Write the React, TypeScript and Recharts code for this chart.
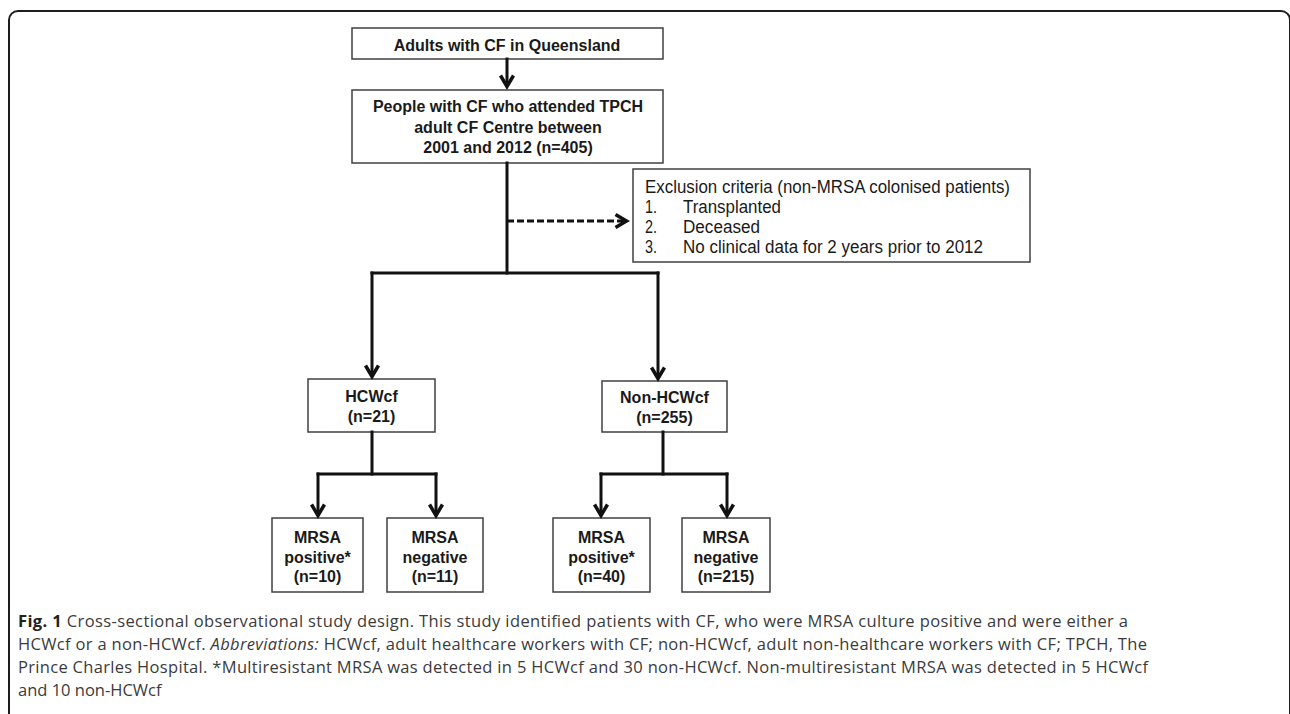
import React from "react";
import { ScatterChart, Scatter, XAxis, YAxis, ReferenceArea, ReferenceLine } from "recharts";

// ---- content ----
const topLabel = "Adults with CF in Queensland";
const attendedLines = ["People with CF who attended TPCH", "adult CF Centre between", "2001 and 2012"];
const totalAttended = 405;
const groupNames = ["HCWcf", "Non-HCWcf"];
const groupCounts = [21, 255];
const outcomeNames = ["positive*", "negative", "positive*", "negative"];
const outcomeCounts = [10, 11, 40, 215];
const exclusionHeader = "Exclusion criteria (non-MRSA colonised patients)";
const exclusionItems = ["Transplanted", "Deceased", "No clinical data for 2 years prior to 2012"];

// ---- layout (chart coordinate units) ----
const W = 1290;
const H = 714;
const boxX1 = [352, 352, 633, 308, 602, 272, 387, 553, 682];
const boxX2 = [663, 663, 1030, 435, 727, 363, 483, 650, 770];
const boxY1 = [28, 90, 169, 379, 381, 518, 518, 518, 518];
const boxY2 = [59, 163, 262, 432, 432, 592, 592, 592, 592];

// solid connectors: [x1, y1, x2, y2, arrow?]
const solidLinks: [number, number, number, number, boolean][] = [
  [507, 59, 507, 89, true],
  [507, 163, 507, 273, false],
  [372, 273, 658, 273, false],
  [372, 273, 372, 379, true],
  [658, 273, 658, 381, true],
  [372, 432, 372, 474, false],
  [318, 474, 436, 474, false],
  [318, 474, 318, 518, true],
  [436, 474, 436, 518, true],
  [663, 432, 663, 474, false],
  [601, 474, 727, 474, false],
  [601, 474, 601, 518, true],
  [727, 474, 727, 518, true],
];
const dashedLink: [number, number, number, number] = [507, 221, 629, 221];

const captionX = 18;
const captionY = [622, 645, 668, 691];

const FONT = "'Liberation Sans', Arial, sans-serif";
const CAP_FONT = "'Open Sans', 'Noto Sans', sans-serif";
const LINE = "#111111";
const BOX = "#404040";
const TXT = "#1a1a1a";

type TextNode = { x: number; y: number; lines: string[]; kind: string };

const centers = (i: number) => ({ x: (boxX1[i] + boxX2[i]) / 2, y: (boxY1[i] + boxY2[i]) / 2 });

const textNodes: TextNode[] = [
  { x: 507, y: centers(0).y, lines: [topLabel], kind: "top" },
  { x: 508, y: centers(1).y, lines: [attendedLines[0], attendedLines[1], `${attendedLines[2]} (n=${totalAttended})`], kind: "main" },
  { ...centers(3), lines: [groupNames[0], `(n=${groupCounts[0]})`], kind: "group" },
  { ...centers(4), lines: [groupNames[1], `(n=${groupCounts[1]})`], kind: "group" },
  ...outcomeNames.map((n, i) => ({ ...centers(5 + i), lines: ["MRSA", n, `(n=${outcomeCounts[i]})`], kind: "outcome" })),
];

const kindStyle: Record<string, { size: number; lh: number; dy: number }> = {
  top: { size: 16, lh: 20, dy: 1.5 },
  main: { size: 16, lh: 20.5, dy: 0.5 },
  group: { size: 16, lh: 20, dy: 1 },
  outcome: { size: 16, lh: 19.5, dy: 2 },
};

const BoxText = (props: any) => {
  const { cx, cy, payload } = props;
  const st = kindStyle[payload.kind];
  const n = payload.lines.length;
  return (
    <g>
      {payload.lines.map((l: string, i: number) => (
        <text
          key={i}
          x={cx}
          y={cy + st.dy + (i - (n - 1) / 2) * st.lh}
          textAnchor="middle"
          dominantBaseline="central"
          fontFamily={FONT}
          fontWeight="bold"
          fontSize={st.size}
          fill={TXT}
        >
          {l}
        </text>
      ))}
    </g>
  );
};

const exclusionNode = [{ x: boxX1[2], y: boxY1[2] }];
const exclusionWidths = [98, 77, 300];
const ExclusionText = (props: any) => {
  const { cx, cy } = props;
  const common = {
    fontFamily: FONT,
    fontSize: 17.5,
    fill: TXT,
    dominantBaseline: "central" as const,
    lengthAdjust: "spacingAndGlyphs" as const,
  };
  return (
    <g>
      <text x={cx + 12} y={cy + 18} textLength={365} {...common}>{exclusionHeader}</text>
      {exclusionItems.map((t, i) => (
        <g key={i}>
          <text x={cx + 12} y={cy + 38 + i * 20} textLength={12} {...common}>{`${i + 1}.`}</text>
          <text x={cx + 50} y={cy + 38 + i * 20} textLength={exclusionWidths[i]} {...common}>{t}</text>
        </g>
      ))}
    </g>
  );
};

const arrowTips = [
  ...solidLinks.filter((l) => l[4]).map((l) => ({ x: l[2], y: l[3], dir: "down" })),
  { x: dashedLink[2], y: dashedLink[3], dir: "right" },
];

const ArrowHead = (props: any) => {
  const { cx, cy, payload } = props;
  const L = 11;
  const h = 6.5;
  const d =
    payload.dir === "down"
      ? `M${cx - h},${cy - 2.5 - L} L${cx},${cy - 2.5} L${cx + h},${cy - 2.5 - L}`
      : `M${cx - 2.5 - L},${cy - h} L${cx - 2.5},${cy} L${cx - 2.5 - L},${cy + h}`;
  return <path d={d} fill="none" stroke={LINE} strokeWidth={3.5} strokeLinejoin="miter" />;
};

const captionNodes = captionY.map((y, i) => ({ x: captionX, y, i }));
const captionWidths = [1110, 1129, 1130];
const Caption = (props: any) => {
  const { cx, cy, payload } = props;
  const i = payload.i;
  const common: any = {
    x: cx,
    y: cy + 5,
    fontFamily: CAP_FONT,
    fontSize: 16.5,
    fill: "#3b3b3b",
  };
  if (captionWidths[i]) {
    common.textLength = captionWidths[i];
    common.lengthAdjust = "spacing";
  }
  if (i === 0)
    return (
      <text {...common}>
        <tspan fontWeight="bold" fill="#222">Fig. 1</tspan>
        {" Cross-sectional observational study design. This study identified patients with CF, who were MRSA culture positive and were either a"}
      </text>
    );
  if (i === 1)
    return (
      <text {...common}>
        {"HCWcf or a non-HCWcf. "}
        <tspan fontStyle="italic">Abbreviations:</tspan>
        {" HCWcf, adult healthcare workers with CF; non-HCWcf, adult non-healthcare workers with CF; TPCH, The"}
      </text>
    );
  if (i === 2)
    return (
      <text {...common}>
        {"Prince Charles Hospital. *Multiresistant MRSA was detected in 5 HCWcf and 30 non-HCWcf. Non-multiresistant MRSA was detected in 5 HCWcf"}
      </text>
    );
  return <text {...common}>{"and 10 non-HCWcf"}</text>;
};

export default function App() {
  return (
    <div style={{ position: "relative", width: W, height: H, overflow: "hidden", background: "#fff" }}>
      <style>{"body{margin:0;}"}</style>
      <div
        style={{
          position: "absolute",
          left: 8,
          top: 10,
          width: 1283,
          height: 800,
          border: "2px solid #1e1e1e",
          borderRadius: 10,
          boxSizing: "border-box",
        }}
      />
      <div style={{ position: "absolute", left: 0, top: 0 }}>
        <ScatterChart width={W} height={H} margin={{ top: 0, right: 0, bottom: 0, left: 0 }}>
          <XAxis type="number" dataKey="x" domain={[0, W]} allowDataOverflow hide />
          <YAxis type="number" dataKey="y" domain={[0, H]} allowDataOverflow reversed hide />
          {solidLinks.map((l, i) => (
            <ReferenceLine
              key={`l${i}`}
              segment={[{ x: l[0], y: l[1] }, { x: l[2], y: l[4] ? l[3] - 4 : l[3] }]}
              stroke={LINE}
              strokeWidth={3}
              strokeLinecap="square"
            />
          ))}
          <ReferenceLine
            segment={[{ x: dashedLink[0], y: dashedLink[1] }, { x: dashedLink[2] - 4, y: dashedLink[3] }]}
            stroke={LINE}
            strokeWidth={3}
            strokeDasharray="7 3"
          />
          {boxX1.map((x1, i) => (
            <ReferenceArea
              key={`b${i}`}
              x1={x1}
              x2={boxX2[i]}
              y1={boxY1[i]}
              y2={boxY2[i]}
              fill="#ffffff"
              fillOpacity={1}
              stroke={BOX}
              strokeWidth={1.5}
            />
          ))}
          <Scatter data={arrowTips} shape={ArrowHead} isAnimationActive={false} />
          <Scatter data={textNodes} shape={BoxText} isAnimationActive={false} />
          <Scatter data={exclusionNode} shape={ExclusionText} isAnimationActive={false} />
          <Scatter data={captionNodes} shape={Caption} isAnimationActive={false} />
        </ScatterChart>
      </div>
    </div>
  );
}
